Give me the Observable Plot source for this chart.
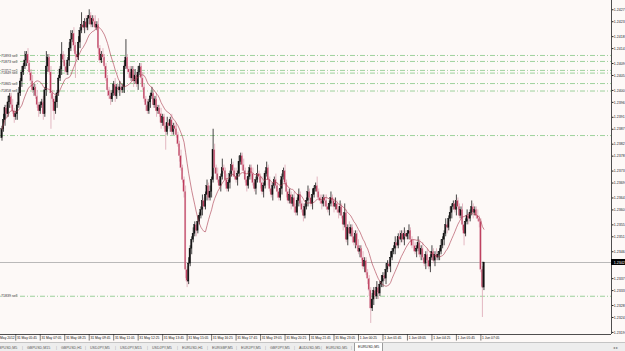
<!DOCTYPE html>
<html><head><meta charset="utf-8">
<script src="https://cdn.jsdelivr.net/npm/d3@7"></script>
<script src="https://cdn.jsdelivr.net/npm/@observablehq/plot@0.6"></script>
<style>
html,body{margin:0;padding:0;background:#fdf9f7;}
body{width:625px;height:351px;overflow:hidden;font-family:"Liberation Sans",Arial,sans-serif;}
#tabs{position:relative;width:625px;height:9px;background:#ededed;border-top:1px solid #c4c4c4;overflow:hidden;font-size:3.6px;color:#555;}
#tabs span{position:absolute;top:2.5px;white-space:nowrap;}
#tabs span.sep{color:#9a9a9a;}
#tabs span.active{top:0px;background:#fff;border:1px solid #9c9c9c;border-top:none;padding:2px 3px 1.5px 3px;color:#222;}
</style></head>
<body><div id="chart"></div><div id="tabs"></div>
<script>
// ---- data (prices stored as pips above 1.2300) ----
const BASE = 1.23;
const firstOpenPips = 84;
const closePips = [
 87,90,94,92, 96,98,95,93, 91,92,95, 99,103,106,108, 110,112,109,106, 103,100,101,98, 95,93,95,
 96,92, 100,108,111, 106,99,97, 93,96,99, 104,107, 112,110,108, 106,110, 114,117,119, 115,112,111,116,
 120,122,121, 123,121,124, 125,122,124,123, 121,122, 114,110, 112,111,108,
 104,100,98,97,99, 102,98,101,100, 101,100,101, 108,111,107, 106,104,107,103,105,102, 106,108,104,
 101,97,95,93,96,98, 99,95,97,93,94, 92,89,91,88,86,89, 88,90,86,88,87,85, 82,78,74,70,66, 40,36,
 42,47,50,52,55,53,56,58, 60,63,61,65,68,64,66,70, 80,74,
 72,70,68,71,74,73,70,67,69,72,75,73,71,
 70,72,76,78,75,73,70,68,71,74,72,69,67,70,72,71,
 69,66,68,72,74,70,67,65,68,70,
 68,66,64,67,71,73,69,66,63,65,
 62,64,61,59,63,65,62,
 60,58,61,63,66,64,62,65,67,68,66,64,63,
 62,64,63,61,60,62,64,63,61,62,60,59,61,
 58,55,59,50,54,52,
 54,51,49,52,48,46,47,
 44,41,43,39,37,
 33,27,30,
 33,31,34,32,35,
 36,38,37,40,42,41,44,46,
 47,49,48,51,50,52,50,52,51,
 52,53,50,48,
 48,46,47,49,45,
 47,44,42,45,43,41,44,46,43,45,44,
 45,46,48,50,
 52,55,54,57,59,
 61,62,60,63,61,58,60,
 55,52,56,
 58,57,59,
 61,59,60,58,
 57,56,
 40,34,
 42.4
];
// wick lengths in pips (base-36 digits), upper and lower
const wickUpDigits = "1211211211"+"1212131211"+"2112111215"+"1121121114"+"1211231211"+"2141121211"+"1212112111"+"1211211211"+"2611211212"+"1121121121"+
 "1211211121"+"1211211211"+"2121121121"+"1211212172"+"1211311211"+"2113121121"+"1211211311"+"2112112112"+"1131121121"+"1211211211"+
 "2112113112"+"1121121121"+"1211311211"+"2112112111"+"1121121121"+"1211211211"+"2112112112"+"1121121121"+"1211211211"+"2112111211"+
 "1211211211"+"121110";
const wickDnDigits = "1121121121"+"2112112112"+"1211211212"+"21c1312112"+"1211211281"+"1211211211"+"2112112112"+"1211211211"+"2112112112"+"1211211211"+
 "1211211611"+"2112112112"+"3211211211"+"1211211212"+"2112112112"+"1211211211"+"2112112112"+"1211211211"+"2112112112"+"1211211211"+
 "2112112112"+"1211211211"+"2112112112"+"1211211212"+"2512112112"+"1211211211"+"2112112112"+"1211211211"+"2112112112"+"1211211211"+
 "1241121121"+"1121a1";

const timeTickIndex = [9,25,41,57,73,89,105,121,137,153,169,185,201,217,233,249,265,281,297,313];
const timeTickLabels = ["31 May 05:45","31 May 07:05","31 May 08:25","31 May 09:45","31 May 11:05","31 May 12:25","31 May 13:45","31 May 15:05","31 May 16:25","31 May 17:45","31 May 19:05","31 May 20:25","31 May 21:45","31 May 23:05","1 Jun 00:25","1 Jun 01:45","1 Jun 03:05","1 Jun 04:25","1 Jun 05:45","1 Jun 07:05"];
const firstDateLabel = "31 May 2012";
const priceTicks = [1.2427,1.2423,1.2418,1.2414,1.2409,1.2405,1.2400,1.2396,1.2391,1.2387,1.2382,1.2378,1.2373,1.2369,1.2364,1.2360,1.2355,1.2351,1.2346,1.2342,1.2337,1.2333,1.2328,1.2324,1.2319];
const orderPrices = [1.24117,1.24097,1.24067,1.24058,1.24023,1.23998,1.23849,1.23311];
const orderLabels = ["71893 sell","71873 sell","71852 sell","71849 sell","71865 sell","71858 sell","","71839 sell"];
const tabNames = ["GBPUSD,M5","GBPUSD,M15","GBPUSD,H1","USDJPY,M5","USDJPY,M15","USDJPY,M5","EURUSD,H1","EURGBP,M5","EURJPY,M5","GBPJPY,M5","AUDUSD,M5","EURUSD,M5"];
const tabLefts = [-4,27,61,90,120,152,182,212,241,270,299,326];
const activeTab = "EURUSD,M5";
const maPeriod = 14;

// ---- build candles ----
const candles = closePips.map((c, i) => {
  const o = i === 0 ? firstOpenPips : closePips[i - 1];
  const up = parseInt(wickUpDigits[i] || "1", 36);
  const dn = parseInt(wickDnDigits[i] || "1", 36);
  return {
    i,
    open: BASE + o / 10000,
    close: BASE + c / 10000,
    high: BASE + (Math.max(o, c) + up) / 10000,
    low: BASE + (Math.min(o, c) - dn) / 10000,
    bull: c > o
  };
});
const last = candles[candles.length - 1];
const xDomain = [-0.98, 398.37];
const yDomain = [1.23183, 1.24301];
const bg = "#fdf9f7";
const fontFamily = "'Liberation Sans', Arial, sans-serif";

const timeTicks = timeTickIndex.map((i, k) => ({i, label: timeTickLabels[k]}));
const orders = orderPrices.map((p, k) => ({p, label: orderLabels[k]}));

const chart = Plot.plot({
  width: 625, height: 342,
  marginLeft: 0, marginRight: 14, marginTop: 0, marginBottom: 8,
  style: {background: bg, fontFamily, overflow: "hidden"},
  x: {domain: xDomain, axis: null},
  y: {domain: yDomain, axis: null},
  marks: [
    // pending order lines
    Plot.ruleY(orders, {y: "p", stroke: "#86c886", strokeWidth: 0.8, strokeDasharray: "5,2,1,2"}),
    // current price line
    Plot.ruleY([last.close], {stroke: "#a8a8a8", strokeWidth: 0.8}),
    // order labels
    Plot.text(orders.filter(d => d.label), {x: xDomain[0], y: "p", text: "label", textAnchor: "start", dx: 0.5,
      fontSize: 3.6, fill: "#333", stroke: bg, strokeWidth: 1.2}),
    // wicks
    Plot.ruleX(candles, {x: "i", y1: "low", y2: "high", stroke: d => d.bull ? "#1a1a1a" : "#dca6b4", strokeWidth: 0.8}),
    // bodies
    Plot.rect(candles, {x1: d => d.i - 0.45, x2: d => d.i + 0.45, y1: "open", y2: "close",
      fill: d => d.bull ? "#111" : "#bd3a5a", stroke: d => d.bull ? "#111" : "#dc9fb0", strokeWidth: 0.3}),
    // moving average
    Plot.lineY(candles, Plot.windowY({k: maPeriod, anchor: "end"}, {x: "i", y: "close", stroke: "#a8374c", strokeWidth: 0.6})),
    // chart borders
    Plot.ruleX([xDomain[1]], {y1: yDomain[0], y2: yDomain[1], stroke: "#222", strokeWidth: 0.8}),
    Plot.ruleY([yDomain[0]], {x1: xDomain[0], x2: xDomain[1], stroke: "#222", strokeWidth: 0.8}),
    // price axis
    Plot.axisY(priceTicks, {anchor: "right", tickSize: 1.5, tickPadding: 0.8, fontSize: 3.6, tickFormat: d => d.toFixed(4), stroke: "#222", fill: "#222"}),
    // current price box
    Plot.rect([last], {x1: xDomain[1], x2: xDomain[1] + 9.2, y1: d => d.close - 0.0001, y2: d => d.close + 0.0001, fill: "#000"}),
    Plot.text([last], {x: xDomain[1], y: "close", text: d => d.close.toFixed(4), textAnchor: "start", dx: 2.3, fontSize: 3.6, fill: "#fff"}),
    // time axis ticks & labels
    Plot.ruleX(timeTicks, {x: "i", y1: yDomain[0], y2: yDomain[0] - 0.00022, stroke: "#222", strokeWidth: 0.6}),
    Plot.text(timeTicks, {x: "i", y: yDomain[0], text: "label", textAnchor: "start", lineAnchor: "top", dx: 1.2, dy: 2, fontSize: 3.3, fill: "#111"}),
    Plot.text([firstDateLabel], {x: timeTickIndex[0], y: yDomain[0], text: d => d, textAnchor: "end", lineAnchor: "top", dx: -1.2, dy: 2, fontSize: 3.3, fill: "#111"})
  ]
});
document.getElementById("chart").appendChild(chart);

// tab strip
const tabs = document.getElementById("tabs");
tabNames.forEach((name, k) => {
  const s = document.createElement("span");
  s.textContent = name;
  s.style.left = tabLefts[k] + "px";
  tabs.appendChild(s);
  const sep = document.createElement("span");
  sep.className = "sep";
  sep.textContent = "|";
  sep.style.left = ((k < tabNames.length - 1 ? tabLefts[k + 1] : 356) - 5) + "px";
  tabs.appendChild(sep);
});
const act = document.createElement("span");
act.className = "active";
act.textContent = activeTab;
act.style.left = "354px";
tabs.appendChild(act);
const arr = document.createElement("span");
arr.textContent = "◂ ▸";
arr.style.left = "613px";
arr.style.color = "#777";
tabs.appendChild(arr);
</script>
</body></html>
